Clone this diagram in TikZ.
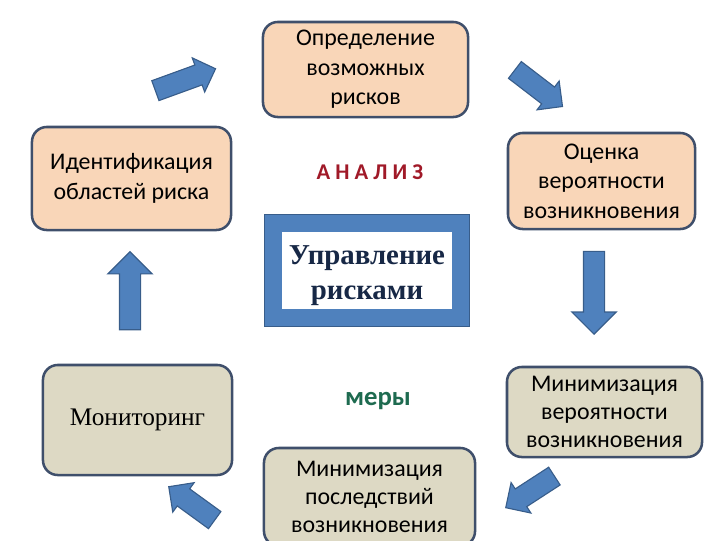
\documentclass[tikz,border=0pt]{standalone}
\usepackage{fontspec}
\setmainfont{Carlito}
\newfontfamily\romanfont{Liberation Serif}
\usetikzlibrary{shapes.arrows}
\definecolor{peachfill}{RGB}{249, 214, 184}
\definecolor{stonefill}{RGB}{221, 217, 196}
\definecolor{boxline}{RGB}{63, 79, 107}
\definecolor{arrowblue}{RGB}{79, 129, 189}
\definecolor{arrowline}{RGB}{56, 93, 138}
\definecolor{analred}{RGB}{160, 25, 40}
\definecolor{measgreen}{RGB}{30, 107, 80}
\definecolor{ctrlnavy}{RGB}{23, 40, 70}
\tikzset{
    stagebox/.style={draw=boxline, line width=1.8pt, rectangle, rounded corners=10.5pt, inner sep=0pt, align=center, font=\fontsize{17}{21}\selectfont},
    riskbox/.style={stagebox, fill=peachfill},
    actbox/.style={stagebox, fill=stonefill, font=\fontsize{17}{20}\selectfont},
    blockarrow/.style={single arrow, draw=arrowline, fill=arrowblue, line width=0.8pt, single arrow head indent=0pt, inner xsep=0pt, inner ysep=0.25cm},
    diagarrow/.style={blockarrow, single arrow head extend=0.19cm},
    vertarrow/.style={blockarrow, single arrow head extend=0.29cm},
    ctrlframe/.style={draw=arrowline, line width=0.6pt, double=arrowblue, double distance=11.9pt, fill=white, inner sep=0pt},
    ctrltext/.style={align=center, text=ctrlnavy, font=\romanfont\bfseries\fontsize{20.5}{25}\selectfont},
    keyword/.style={font=\bfseries\fontsize{17}{21}\selectfont},
}

\begin{document}
\begin{tikzpicture}[x=0.025cm, y=-0.025cm]
    \useasboundingbox (0, 0) rectangle (720, 540);
    \clip (0, 0) rectangle (720, 540);

    % The analysis stages
    \node[riskbox, minimum width=5.125cm, minimum height=2.375cm] (define) at (365.5, 69.5)
          {Определение\\возможных\\рисков};
    \node[riskbox, minimum width=4.975cm, minimum height=2.575cm] (identify) at (131.5, 178.5)
          {Идентификация\\областей риска};
    \node[riskbox, minimum width=4.675cm, minimum height=2.4cm] (assess) at (601.5, 181)
          {Оценка\\вероятности\\возникновения};

    % The measures
    \node[actbox, minimum width=4.875cm, minimum height=2.25cm] (reduceprob) at (604.5, 412)
          {Минимизация\\вероятности\\возникновения};
    \node[actbox, minimum width=5.275cm, minimum height=2.45cm] (reduceimpact) at (369.5, 497)
          {Минимизация\\последствий\\возникновения};
    \node[actbox, minimum width=4.725cm, minimum height=2.75cm, font=\romanfont\fontsize{18}{22}\selectfont] (monitor) at (137.5, 420)
          {Мониторинг};

    % Centre
    \node[ctrlframe, minimum width=4.6875cm, minimum height=2.3625cm] (control) at (367, 270.5) {};
    \node[ctrltext] (controltext) at ([yshift=-0.12cm]control.center) {Управление\\рисками};
    \node[keyword, text=analred, font=\bfseries\fontsize{16}{20}\selectfont] (analysis) at (370, 172) {А Н А Л И З};
    \node[keyword, text=measgreen, font=\bfseries\fontsize{19}{23}\selectfont] (measures) at (378, 401) {меры};

    % Block arrows of the cycle
    \node[diagarrow, minimum height=1.6cm, rotate=20] (toDefine) at (180.5, 81.5) {};
    \node[diagarrow, minimum height=1.5cm, rotate=-37.5] (toAssess) at (534.5, 85) {};
    \node[vertarrow, minimum height=2.07cm, rotate=-90] (toReduce) at (594, 287.5) {};
    \node[diagarrow, minimum height=1.45cm, rotate=213] (toImpact) at (534.5, 489) {};
    \node[diagarrow, minimum height=1.42cm, rotate=144] (toMonitor) at (196, 506.5) {};
    \node[vertarrow, minimum height=1.95cm, rotate=90] (toIdentify) at (130, 296) {};
\end{tikzpicture}
\end{document}
